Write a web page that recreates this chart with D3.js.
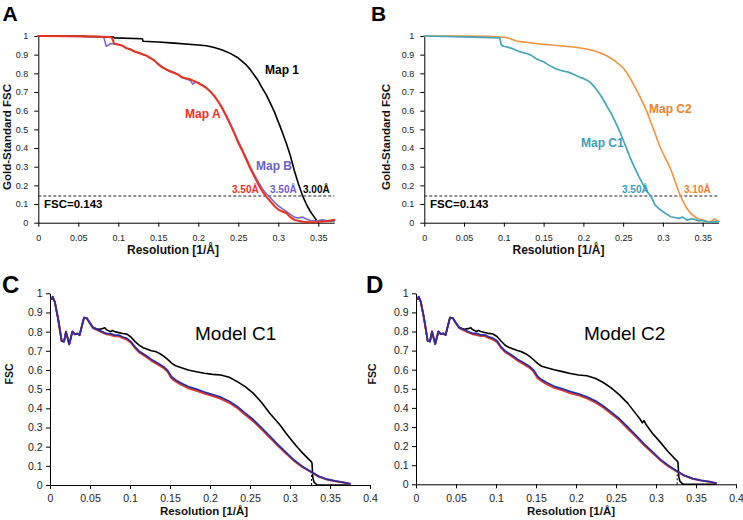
<!DOCTYPE html>
<html><head><meta charset="utf-8">
<script src="https://cdn.jsdelivr.net/npm/d3@7"></script>
<style>
html,body{margin:0;padding:0;background:#fff;}
svg{display:block;font-family:"Liberation Sans",Arial,sans-serif;}
</style></head>
<body>
<svg id="chart" width="743" height="520"></svg>
<script>
// ---------- tick values ----------
const xTicksAB = [0,0.05,0.1,0.15,0.2,0.25,0.3,0.35];
const xTicksCD = [0,0.05,0.1,0.15,0.2,0.25,0.3,0.35,0.4];
const yTicks = [0,0.1,0.2,0.3,0.4,0.5,0.6,0.7,0.8,0.9,1];
const fscThreshold = 0.143;

// ---------- Panel A ----------
const map1X = [0,0.05,0.06,0.094,0.095,0.13,0.131,0.15,0.17,0.2,0.21,0.22,0.23,0.24,0.25,0.26,0.265,0.27,0.275,0.28,0.285,0.29,0.295,0.30,0.305,0.31,0.315,0.32,0.325,0.33,0.335,0.34,0.345,0.348,0.35,0.355,0.36,0.365,0.37];
const map1Y = [1,1,0.998,0.995,0.99,0.985,0.972,0.968,0.962,0.952,0.948,0.938,0.925,0.907,0.882,0.845,0.82,0.79,0.76,0.72,0.685,0.64,0.595,0.54,0.485,0.425,0.36,0.28,0.21,0.148,0.1,0.06,0.03,0.012,0.01,0.012,0.008,0.01,0.012];

const mapAX = [0,0.05,0.09,0.092,0.095,0.1,0.105,0.11,0.115,0.12,0.125,0.13,0.135,0.14,0.145,0.15,0.155,0.16,0.165,0.17,0.175,0.18,0.185,0.19,0.195,0.2,0.205,0.21,0.215,0.22,0.225,0.23,0.235,0.24,0.245,0.25,0.255,0.26,0.265,0.27,0.275,0.28,0.285,0.29,0.295,0.30,0.305,0.31,0.315,0.32,0.325,0.33,0.34,0.35,0.36,0.365,0.37];
const mapAY = [1,0.998,0.995,0.99,0.958,0.955,0.948,0.935,0.928,0.917,0.91,0.902,0.895,0.882,0.868,0.848,0.832,0.82,0.81,0.802,0.792,0.778,0.772,0.768,0.758,0.748,0.735,0.722,0.702,0.678,0.648,0.612,0.57,0.525,0.478,0.428,0.385,0.338,0.29,0.248,0.205,0.168,0.14,0.115,0.09,0.07,0.06,0.052,0.03,0.015,0.01,0.005,0.003,0.004,0.008,0.012,0.016];

const mapBX = [0,0.05,0.08,0.082,0.085,0.088,0.09,0.095,0.1,0.105,0.11,0.115,0.12,0.125,0.13,0.135,0.14,0.145,0.15,0.155,0.16,0.165,0.17,0.175,0.18,0.185,0.19,0.193,0.197,0.2,0.205,0.21,0.215,0.22,0.225,0.23,0.235,0.24,0.245,0.25,0.255,0.26,0.265,0.27,0.275,0.28,0.285,0.29,0.295,0.30,0.305,0.31,0.315,0.32,0.325,0.33,0.335,0.34,0.35,0.355,0.36,0.37];
const mapBY = [1,0.998,0.995,0.99,0.945,0.952,0.96,0.957,0.953,0.948,0.936,0.93,0.918,0.912,0.903,0.896,0.884,0.87,0.85,0.835,0.822,0.812,0.804,0.794,0.776,0.77,0.762,0.742,0.755,0.75,0.737,0.724,0.704,0.68,0.65,0.615,0.574,0.53,0.484,0.436,0.392,0.346,0.298,0.258,0.218,0.182,0.155,0.135,0.11,0.09,0.075,0.06,0.045,0.03,0.025,0.03,0.02,0.012,0.01,0.015,0.012,0.01];

// ---------- Panel B ----------
const mapC2X = [0,0.05,0.08,0.09,0.1,0.105,0.11,0.115,0.12,0.13,0.14,0.15,0.16,0.17,0.18,0.19,0.2,0.21,0.22,0.23,0.24,0.25,0.255,0.26,0.265,0.27,0.275,0.28,0.285,0.29,0.295,0.30,0.305,0.31,0.315,0.32,0.325,0.33,0.335,0.34,0.345,0.35,0.355,0.36,0.365,0.37];
const mapC2Y = [1,1,0.998,0.996,0.993,0.99,0.982,0.975,0.97,0.965,0.96,0.955,0.952,0.948,0.944,0.94,0.933,0.925,0.912,0.893,0.866,0.83,0.8,0.765,0.725,0.685,0.64,0.595,0.535,0.48,0.42,0.372,0.33,0.285,0.225,0.166,0.115,0.077,0.05,0.032,0.02,0.014,0.008,0.005,0.02,0.005];

const mapC1X = [0,0.05,0.095,0.097,0.1,0.105,0.11,0.115,0.12,0.125,0.13,0.135,0.14,0.145,0.15,0.155,0.16,0.165,0.17,0.175,0.18,0.185,0.19,0.195,0.2,0.205,0.21,0.215,0.22,0.225,0.23,0.235,0.24,0.245,0.25,0.255,0.26,0.265,0.27,0.275,0.28,0.285,0.29,0.295,0.30,0.305,0.31,0.315,0.32,0.325,0.33,0.335,0.34,0.345,0.35,0.355,0.36,0.365,0.37];
const mapC1Y = [1,0.995,0.99,0.95,0.945,0.94,0.934,0.925,0.916,0.91,0.905,0.895,0.88,0.87,0.862,0.848,0.836,0.825,0.818,0.812,0.808,0.8,0.79,0.78,0.773,0.762,0.746,0.722,0.693,0.66,0.621,0.585,0.541,0.495,0.443,0.39,0.336,0.29,0.246,0.205,0.166,0.142,0.095,0.075,0.059,0.045,0.032,0.028,0.023,0.03,0.014,0.02,0.018,0.01,0.012,0.005,0.002,0.004,0.005];

// ---------- Panel C (Model C1) ----------
const c1BlueX = [0.002,0.0034,0.006,0.01,0.0146,0.0175,0.02,0.024,0.028,0.031,0.034,0.037,0.0425,0.046,0.05,0.054,0.061,0.065,0.0706,0.0757,0.0808,0.0859,0.091,0.0961,0.1012,0.1063,0.1114,0.1165,0.1216,0.1267,0.1318,0.137,0.142,0.147,0.152,0.157,0.1625,0.1727,0.183,0.193,0.2033,0.2135,0.224,0.234,0.244,0.2543,0.2645,0.2747,0.285,0.295,0.305,0.3155,0.326,0.336,0.346,0.3563,0.3666,0.375];
const c1BlueY = [0.97,0.982,0.955,0.87,0.751,0.748,0.8,0.734,0.8,0.786,0.79,0.782,0.873,0.87,0.843,0.82,0.808,0.8,0.79,0.79,0.782,0.782,0.772,0.765,0.748,0.72,0.698,0.685,0.67,0.655,0.643,0.63,0.617,0.598,0.565,0.548,0.534,0.513,0.5,0.485,0.472,0.458,0.437,0.41,0.375,0.34,0.298,0.255,0.21,0.17,0.13,0.097,0.07,0.045,0.03,0.021,0.014,0.006];
const c1RedX = [0.002,0.0034,0.006,0.01,0.0146,0.0175,0.02,0.024,0.028,0.031,0.034,0.037,0.0425,0.046,0.05,0.054,0.061,0.065,0.0706,0.0757,0.0808,0.0859,0.091,0.0961,0.1012,0.1063,0.1114,0.1165,0.1216,0.1267,0.1318,0.137,0.142,0.147,0.152,0.157,0.1625,0.1727,0.183,0.193,0.2033,0.2135,0.224,0.234,0.244,0.2543,0.2645,0.2747,0.285,0.295,0.305,0.3155,0.326,0.336,0.346,0.3563,0.3666,0.375];
const c1RedY = [0.97,0.982,0.955,0.87,0.751,0.748,0.8,0.734,0.8,0.786,0.79,0.782,0.873,0.87,0.843,0.818,0.804,0.796,0.786,0.782,0.776,0.776,0.766,0.758,0.742,0.714,0.692,0.679,0.664,0.648,0.636,0.623,0.61,0.59,0.556,0.54,0.526,0.505,0.492,0.477,0.464,0.45,0.429,0.402,0.367,0.332,0.29,0.248,0.204,0.164,0.126,0.093,0.068,0.044,0.029,0.02,0.013,0.006];
const c1BlackX = [0.002,0.0034,0.006,0.01,0.0146,0.0175,0.02,0.024,0.028,0.031,0.034,0.037,0.0425,0.046,0.05,0.054,0.058,0.061,0.065,0.0686,0.0706,0.0757,0.078,0.0808,0.0859,0.091,0.0961,0.1012,0.1063,0.1114,0.1165,0.1216,0.1267,0.1318,0.137,0.142,0.147,0.152,0.157,0.1625,0.1727,0.183,0.193,0.2033,0.2135,0.224,0.234,0.244,0.2543,0.2645,0.2747,0.2875,0.295,0.305,0.315,0.322,0.3265,0.3275,0.3285,0.33,0.334,0.375];
const c1BlackY = [0.97,0.982,0.955,0.87,0.751,0.748,0.8,0.734,0.8,0.786,0.79,0.782,0.873,0.87,0.845,0.822,0.815,0.812,0.815,0.82,0.81,0.8,0.806,0.8,0.795,0.79,0.787,0.772,0.748,0.73,0.716,0.708,0.7,0.696,0.686,0.672,0.655,0.636,0.622,0.614,0.6,0.591,0.583,0.577,0.574,0.562,0.539,0.513,0.478,0.43,0.374,0.313,0.27,0.218,0.17,0.14,0.122,0.115,0.04,0.015,0,0];

// ---------- Panel D (Model C2) ----------
const c2BlueX = [0.002,0.0034,0.006,0.01,0.0146,0.0175,0.02,0.024,0.028,0.031,0.034,0.037,0.0425,0.046,0.05,0.054,0.061,0.065,0.0706,0.0757,0.0808,0.0859,0.091,0.0961,0.1012,0.1063,0.1114,0.1165,0.1216,0.1267,0.1318,0.137,0.142,0.147,0.152,0.157,0.1625,0.1727,0.183,0.193,0.2033,0.2135,0.224,0.234,0.244,0.2543,0.2645,0.2747,0.285,0.295,0.305,0.3155,0.326,0.336,0.346,0.3563,0.3666,0.375];
const c2BlueY = [0.97,0.982,0.955,0.87,0.751,0.748,0.8,0.734,0.8,0.786,0.79,0.782,0.873,0.87,0.843,0.82,0.808,0.8,0.79,0.79,0.782,0.782,0.772,0.765,0.752,0.72,0.698,0.685,0.67,0.655,0.643,0.63,0.617,0.598,0.565,0.548,0.534,0.513,0.5,0.485,0.474,0.458,0.437,0.41,0.377,0.343,0.3,0.257,0.212,0.172,0.132,0.098,0.07,0.045,0.03,0.021,0.014,0.006];
const c2RedX = [0.002,0.0034,0.006,0.01,0.0146,0.0175,0.02,0.024,0.028,0.031,0.034,0.037,0.0425,0.046,0.05,0.054,0.061,0.065,0.0706,0.0757,0.0808,0.0859,0.091,0.0961,0.1012,0.1063,0.1114,0.1165,0.1216,0.1267,0.1318,0.137,0.142,0.147,0.152,0.157,0.1625,0.1727,0.183,0.193,0.2033,0.2135,0.224,0.234,0.244,0.2543,0.2645,0.2747,0.285,0.295,0.305,0.3155,0.326,0.336,0.346,0.3563,0.3666,0.375];
const c2RedY = [0.97,0.982,0.955,0.87,0.751,0.748,0.8,0.734,0.8,0.786,0.79,0.782,0.873,0.87,0.843,0.818,0.804,0.796,0.786,0.782,0.776,0.776,0.766,0.758,0.745,0.714,0.692,0.679,0.664,0.648,0.636,0.623,0.61,0.59,0.556,0.54,0.526,0.505,0.492,0.477,0.466,0.45,0.429,0.402,0.369,0.335,0.292,0.25,0.206,0.166,0.128,0.094,0.068,0.044,0.029,0.02,0.013,0.006];
const c2BlackX = [0.002,0.0034,0.006,0.01,0.0146,0.0175,0.02,0.024,0.028,0.031,0.034,0.037,0.0425,0.046,0.05,0.054,0.058,0.061,0.065,0.0686,0.0706,0.0757,0.078,0.0808,0.0859,0.091,0.0961,0.1012,0.1063,0.1114,0.1165,0.1216,0.1267,0.1318,0.137,0.142,0.147,0.152,0.157,0.1625,0.1727,0.183,0.193,0.2033,0.2135,0.224,0.234,0.244,0.2543,0.2645,0.2747,0.28,0.283,0.285,0.288,0.295,0.305,0.315,0.322,0.3265,0.3275,0.3285,0.33,0.334,0.375];
const c2BlackY = [0.97,0.982,0.955,0.87,0.751,0.748,0.8,0.734,0.8,0.786,0.79,0.782,0.873,0.87,0.845,0.822,0.815,0.812,0.815,0.82,0.81,0.8,0.806,0.8,0.795,0.79,0.787,0.774,0.75,0.728,0.716,0.708,0.7,0.694,0.684,0.67,0.652,0.633,0.618,0.612,0.6,0.59,0.58,0.572,0.568,0.555,0.533,0.505,0.468,0.425,0.37,0.342,0.322,0.333,0.31,0.27,0.222,0.172,0.14,0.122,0.115,0.04,0.015,0,0];

// ---------- drawing ----------
const svg = d3.select("#chart");
const zip = (xs, ys) => xs.map((x, i) => [x, ys[i]]);
const fmt = d => d3.format("~g")(d);

function panel(o) {
  const x = d3.scaleLinear().domain(o.xDomain).range(o.xRange);
  const y = d3.scaleLinear().domain([0, 1]).range(o.yRange);
  const g = svg.append("g");

  const xa = d3.axisBottom(x).tickValues(o.xTicks).tickFormat(fmt)
    .tickSize(o.tick).tickSizeOuter(0).tickPadding(o.xPad);
  const ya = d3.axisLeft(y).tickValues(yTicks).tickFormat(fmt)
    .tickSize(o.tick).tickSizeOuter(0).tickPadding(o.yPad);

  const gx = g.append("g").attr("transform", `translate(0,${o.yRange[0]})`).call(xa);
  const gy = g.append("g").attr("transform", `translate(${o.xRange[0]},0)`).call(ya);
  [gx, gy].forEach(a => {
    a.selectAll("text").attr("font-size", o.tickFont).attr("fill", "#222")
      .attr("font-family", '"Liberation Sans",Arial,sans-serif');
    a.selectAll("line,path").attr("stroke", "#000").attr("stroke-width", 1);
  });

  if (o.dashed) {
    g.append("line")
      .attr("x1", x(0)).attr("x2", x(o.xDomain[1]))
      .attr("y1", y(fscThreshold)).attr("y2", y(fscThreshold))
      .attr("stroke", "#222").attr("stroke-width", 1).attr("stroke-dasharray", "3,2");
  }
  if (o.vdash) {
    g.append("line")
      .attr("x1", x(o.vdash[0])).attr("x2", x(o.vdash[0]))
      .attr("y1", y(0)).attr("y2", y(o.vdash[1]))
      .attr("stroke", "#000").attr("stroke-width", 1).attr("stroke-dasharray", "2,2");
  }

  const line = d3.line().x(d => x(d[0])).y(d => y(d[1]));
  o.series.forEach(s => {
    g.append("path").datum(zip(s.x, s.y)).attr("d", line)
      .attr("fill", "none").attr("stroke", s.color).attr("stroke-width", s.w)
      .attr("stroke-linejoin", "round").attr("stroke-linecap", "round");
  });

  // axis titles
  g.append("text").attr("x", o.xTitle[0]).attr("y", o.xTitle[1])
    .attr("text-anchor", "middle").attr("font-weight", "bold").attr("font-size", o.titleFont)
    .attr("fill", "#111").text("Resolution [1/Å]");
  g.append("text").attr("transform", `translate(${o.yTitle[0]},${o.yTitle[1]}) rotate(-90)`)
    .attr("text-anchor", "middle").attr("font-weight", "bold").attr("font-size", o.yTitleFont)
    .attr("fill", "#111").text(o.yTitleText);

  // panel letter
  g.append("text").attr("x", o.letter[0]).attr("y", o.letter[1])
    .attr("font-weight", "bold").attr("font-size", o.letterFont).attr("fill", "#000")
    .text(o.letterText);

  (o.labels || []).forEach(l => {
    g.append("text").attr("x", l.x).attr("y", l.y)
      .attr("font-weight", l.bold === false ? "normal" : "bold")
      .attr("font-size", l.size).attr("fill", l.color).text(l.text);
  });
}

const red = "#e8321f", purple = "#7a68c6", teal = "#45a6b9", orange = "#ef9340";
const blueC = "#2b2ea3", redC = "#e63a2e";

panel({
  xDomain: [0, 0.37], xRange: [38.3, 334.3], yRange: [222.7, 36],
  xTicks: xTicksAB, tick: 4, xPad: 7.5, yPad: 6, tickFont: 9,
  dashed: true,
  series: [
    {x: map1X, y: map1Y, color: "#000", w: 1.6},
    {x: mapBX, y: mapBY, color: purple, w: 1.6},
    {x: mapAX, y: mapAY, color: red, w: 2}
  ],
  xTitle: [173, 254], yTitle: [11, 137], titleFont: 12, yTitleFont: 11.5, yTitleText: "Gold-Standard FSC",
  letter: [2.5, 21], letterFont: 21, letterText: "A",
  labels: [
    {x: 265, y: 74, text: "Map 1", color: "#000", size: 12},
    {x: 185, y: 118, text: "Map A", color: red, size: 12},
    {x: 256, y: 170, text: "Map B", color: "#6e5ec6", size: 12},
    {x: 232, y: 193, text: "3.50Å", color: red, size: 10},
    {x: 270, y: 193, text: "3.50Å", color: "#6e5ec6", size: 10},
    {x: 303, y: 193, text: "3.00Å", color: "#000", size: 10},
    {x: 44, y: 208, text: "FSC=0.143", color: "#000", size: 11.5}
  ]
});

panel({
  xDomain: [0, 0.37], xRange: [424.3, 718.6], yRange: [222.7, 36],
  xTicks: xTicksAB, tick: 4, xPad: 7.5, yPad: 6, tickFont: 9,
  dashed: true,
  series: [
    {x: mapC2X, y: mapC2Y, color: orange, w: 1.6},
    {x: mapC1X, y: mapC1Y, color: teal, w: 1.7}
  ],
  xTitle: [558.5, 254], yTitle: [390, 137], titleFont: 12, yTitleFont: 11.5, yTitleText: "Gold-Standard FSC",
  letter: [371, 21], letterFont: 21, letterText: "B",
  labels: [
    {x: 649, y: 113, text: "Map C2", color: "#e8852e", size: 12},
    {x: 581, y: 147, text: "Map C1", color: "#3a9eb4", size: 12},
    {x: 622, y: 193, text: "3.50Å", color: "#3a9eb4", size: 10},
    {x: 684, y: 193, text: "3.10Å", color: "#e8852e", size: 10},
    {x: 430, y: 208, text: "FSC=0.143", color: "#000", size: 11.5}
  ]
});

panel({
  xDomain: [0, 0.4], xRange: [50, 370], yRange: [485, 293.3],
  xTicks: xTicksCD, tick: 4, xPad: 6, yPad: 3.5, tickFont: 10.5,
  vdash: [0.327, 0.075],
  series: [
    {x: c1BlackX, y: c1BlackY, color: "#000", w: 1.6},
    {x: c1RedX, y: c1RedY, color: redC, w: 2},
    {x: c1BlueX, y: c1BlueY, color: blueC, w: 1.8}
  ],
  xTitle: [204, 515], yTitle: [13, 374], titleFont: 11.5, yTitleFont: 10.5, yTitleText: "FSC",
  letter: [2, 293], letterFont: 24, letterText: "C",
  labels: [
    {x: 195, y: 340, text: "Model C1", color: "#000", size: 19, bold: false}
  ]
});

panel({
  xDomain: [0, 0.4], xRange: [416, 736], yRange: [484.3, 293.3],
  xTicks: xTicksCD, tick: 4, xPad: 6, yPad: 3.5, tickFont: 10.5,
  vdash: [0.3265, 0.075],
  series: [
    {x: c2BlackX, y: c2BlackY, color: "#000", w: 1.6},
    {x: c2RedX, y: c2RedY, color: redC, w: 2},
    {x: c2BlueX, y: c2BlueY, color: blueC, w: 1.8}
  ],
  xTitle: [571, 514.5], yTitle: [376, 374], titleFont: 11.5, yTitleFont: 10.5, yTitleText: "FSC",
  letter: [366, 293], letterFont: 24, letterText: "D",
  labels: [
    {x: 584, y: 340, text: "Model C2", color: "#000", size: 19, bold: false}
  ]
});
</script>
</body></html>
